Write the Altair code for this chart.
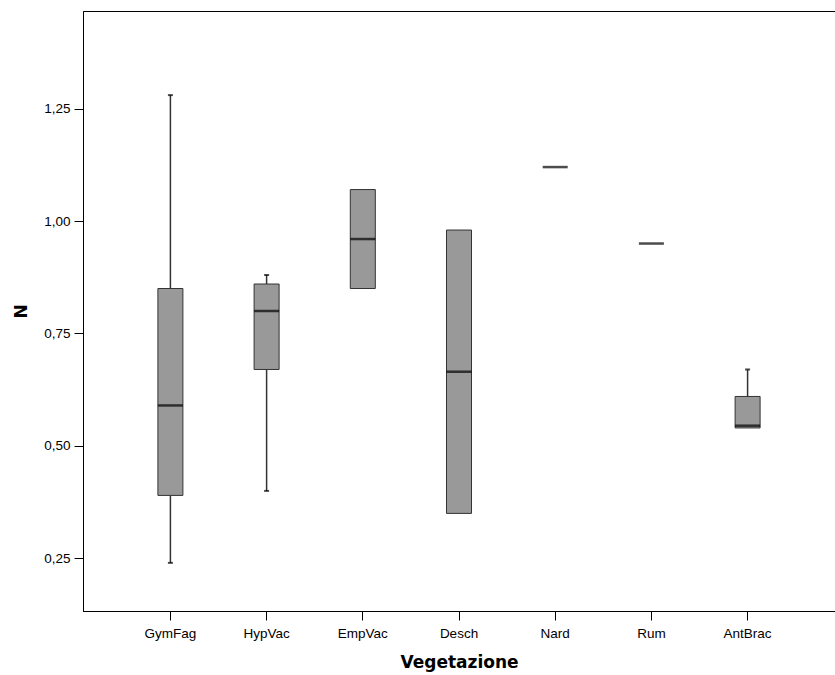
import altair as alt
import pandas as pd

categories = ["GymFag", "HypVac", "EmpVac", "Desch", "Nard", "Rum", "AntBrac"]
mins    = [0.24, 0.40, 0.85, 0.35, 1.12, 0.95, 0.54]
q1s     = [0.39, 0.67, 0.85, 0.35, 1.12, 0.95, 0.54]
medians = [0.59, 0.80, 0.96, 0.665, 1.12, 0.95, 0.545]
q3s     = [0.85, 0.86, 1.07, 0.98, 1.12, 0.95, 0.61]
maxs    = [1.28, 0.88, 1.07, 0.98, 1.12, 0.95, 0.67]
y_ticks = [0.25, 0.50, 0.75, 1.00, 1.25]

df = pd.DataFrame({"cat": categories, "lo": mins, "q1": q1s, "med": medians,
                   "q3": q3s, "hi": maxs})
df["has_box"] = df["q3"] > df["q1"]
df["has_low"] = df["q1"] > df["lo"]
df["has_high"] = df["hi"] > df["q3"]

xs = alt.X("cat:N", sort=categories,
           scale=alt.Scale(paddingInner=0, paddingOuter=0.4086),
           axis=alt.Axis(title="Vegetazione", labelAngle=0, labelFont="Liberation Sans",
                         labelFontSize=13.5, labelColor="black", tickColor="black",
                         tickSize=9, tickWidth=1, domainColor="black", labelPadding=6,
                         titleFont="DejaVu Sans", titleFontSize=17, titleFontWeight="bold",
                         titleColor="black", titleY=51, titleBaseline="middle"))
ysc = alt.Scale(domain=[0.133, 1.467], nice=False, zero=False)
yax = alt.Axis(title="N", values=y_ticks, grid=False,
               labelExpr="replace(format(datum.value, '.2f'), '.', ',')",
               labelFont="Liberation Sans", labelFontSize=13.5, labelColor="black",
               tickColor="black", tickSize=9, tickWidth=1, domainColor="black",
               labelPadding=4, titleFont="DejaVu Sans", titleFontSize=17,
               titleFontWeight="bold", titleColor="black", titleAngle=270,
               titleX=-62, titleY=300, titleAlign="center", titleBaseline="middle")

base = alt.Chart(df)

low_whisk = base.transform_filter("datum.has_low").mark_rule(color="#333333", strokeWidth=1.5).encode(
    x=xs, y=alt.Y("lo:Q", scale=ysc, axis=yax), y2="q1:Q")
high_whisk = base.transform_filter("datum.has_high").mark_rule(color="#333333", strokeWidth=1.5).encode(
    x=xs, y=alt.Y("q3:Q", scale=ysc, axis=yax), y2="hi:Q")
low_cap = base.transform_filter("datum.has_low").mark_tick(color="black", size=5, thickness=2, orient="horizontal").encode(
    x=xs, y=alt.Y("lo:Q", scale=ysc, axis=yax))
high_cap = base.transform_filter("datum.has_high").mark_tick(color="black", size=5, thickness=2, orient="horizontal").encode(
    x=xs, y=alt.Y("hi:Q", scale=ysc, axis=yax))
box = base.transform_filter("datum.has_box").mark_bar(size=25, color="#999999", stroke="#333333", strokeWidth=1).encode(
    x=xs, y=alt.Y("q1:Q", scale=ysc, axis=yax), y2="q3:Q")
median = base.mark_tick(color="black", size=25, thickness=2.5, orient="horizontal").encode(
    x=xs, y=alt.Y("med:Q", scale=ysc, axis=yax))

chart = alt.layer(low_whisk, high_whisk, low_cap, high_cap, box, median).properties(
    width=752, height=600,
    autosize=alt.AutoSizeParams(type="none"),
    padding={"left": 83, "top": 11, "right": 0, "bottom": 64},
    background="white",
).configure_view(stroke="black", strokeWidth=1)

chart.save("out.html", embed_options={"renderer": "svg", "actions": False})
